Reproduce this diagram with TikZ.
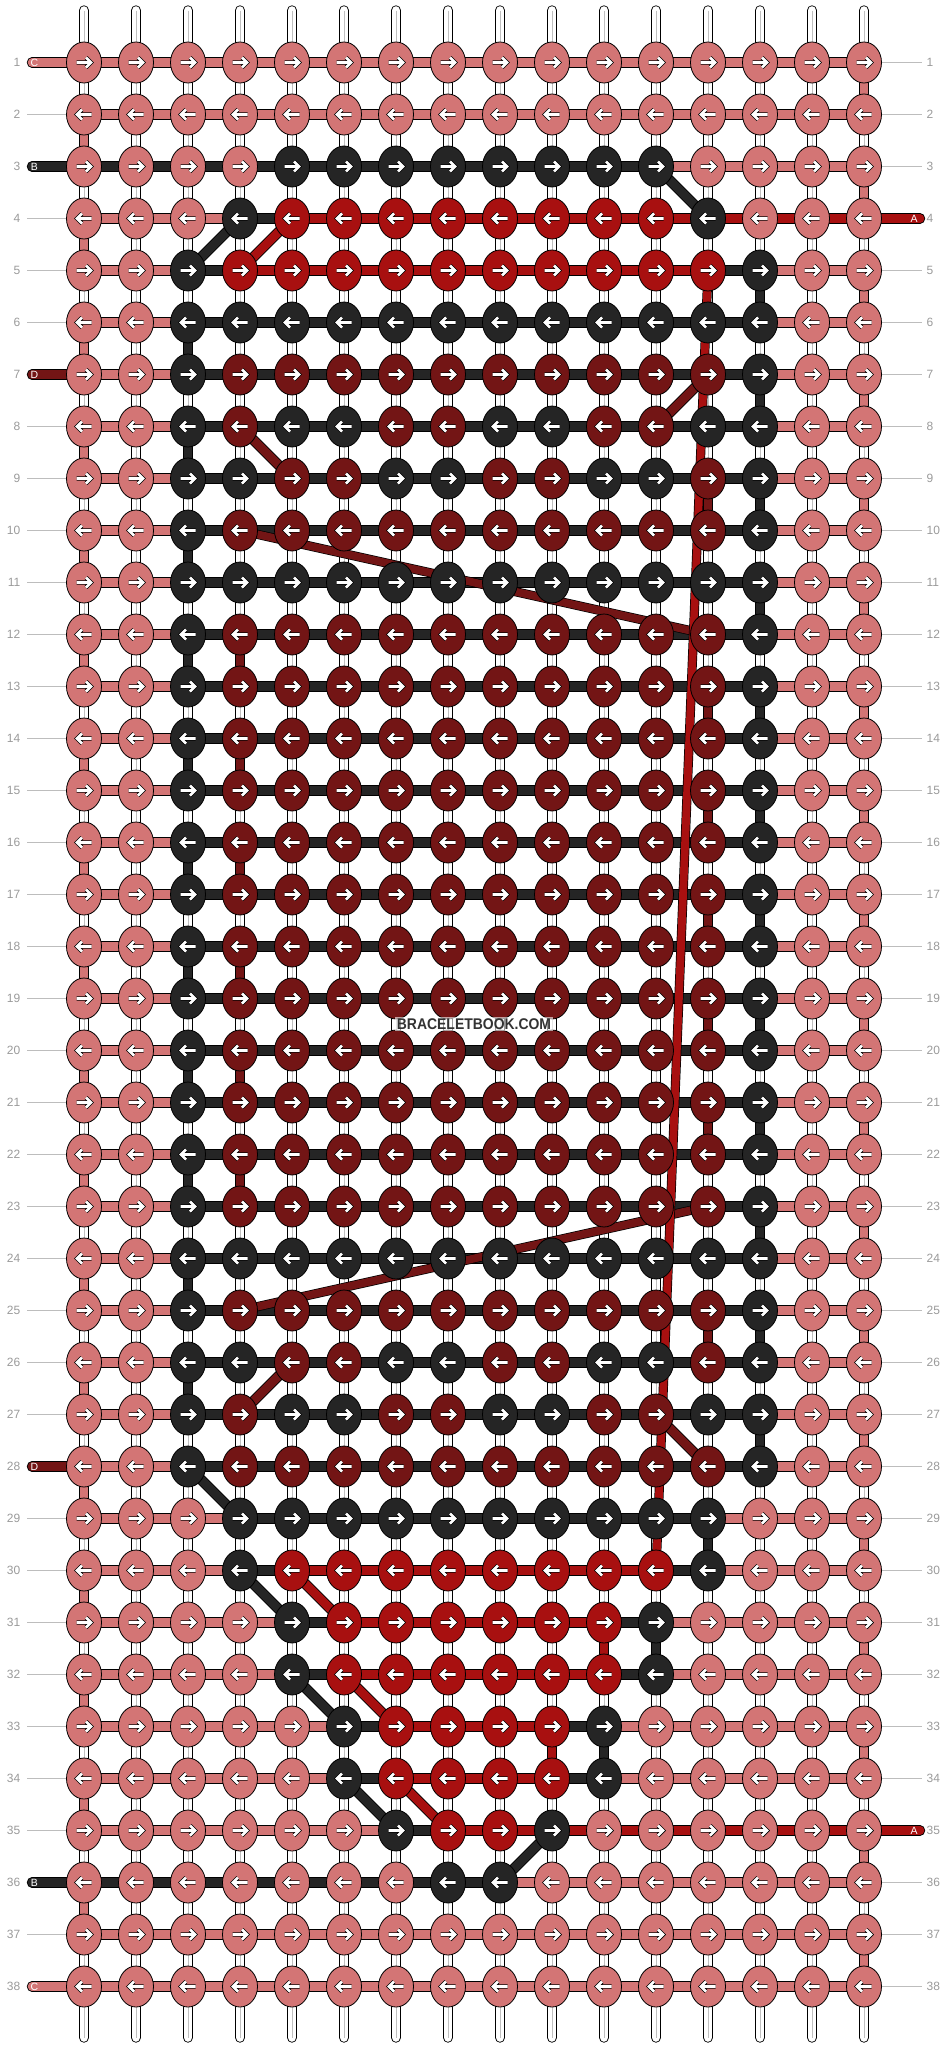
\documentclass[tikz,border=0pt]{standalone}
\usepackage{fontspec}
\setmainfont{Liberation Sans}
\usetikzlibrary{shapes.geometric}

\definecolor{cP}{HTML}{D37575}
\definecolor{cK}{HTML}{252525}
\definecolor{cM}{HTML}{731515}
\definecolor{cR}{HTML}{A81010}
\definecolor{cNum}{HTML}{9A9A9A}
\definecolor{cGuide}{HTML}{BDBDBD}

\tikzset{
  strand/.style={draw=black, line width=0.9, double=#1, double distance=8.6, line cap=round},
  longstrand/.style={draw=black, line width=0.7, double=#1, double distance=7.8, line cap=round},
  knot/.style={ellipse, draw=black, line width=0.8, minimum width=35, minimum height=41, inner sep=0},
  arw/.pic={\draw[draw=black, line width=0.8, double=white, double distance=2.6] (-7.5,0) -- (7,0) (2,-5) -- (7,0) -- (2,5);},
  rownum/.style={text=cNum, font=\fontsize{12}{13}\selectfont, inner sep=0},
  endtag/.style={text=white, font=\fontsize{10.5}{12}\selectfont, inner sep=0},
  guide/.style={draw=cGuide, line width=1},
}

\def\patA{P,P,P,P,P,P,P,P,P,P,P,P,P,P,P,P}
\def\patB{P,P,P,P,K,K,K,K,K,K,K,K,P,P,P,P}
\def\patC{P,P,P,K,R,R,R,R,R,R,R,R,K,P,P,P}
\def\patD{P,P,K,R,R,R,R,R,R,R,R,R,R,K,P,P}
\def\patE{P,P,K,K,K,K,K,K,K,K,K,K,K,K,P,P}
\def\patF{P,P,K,M,M,M,M,M,M,M,M,M,M,K,P,P}
\def\patG{P,P,K,M,K,K,M,M,K,K,M,M,K,K,P,P}
\def\patH{P,P,K,K,M,M,K,K,M,M,K,K,M,K,P,P}
\def\patI{P,P,P,K,K,K,K,K,K,K,K,K,K,P,P,P}
\def\patK{P,P,P,P,K,R,R,R,R,R,R,K,P,P,P,P}
\def\patL{P,P,P,P,P,K,R,R,R,R,K,P,P,P,P,P}
\def\patM{P,P,P,P,P,P,K,R,R,K,P,P,P,P,P,P}
\def\patN{P,P,P,P,P,P,P,K,K,P,P,P,P,P,P,P}

\begin{document}
\begin{tikzpicture}[x=1pt, y=-1pt]
\useasboundingbox (0,0) rectangle (948,2048);

% knot positions, rows 1..38, columns 1..16 (0 and 17 = loose ends)
\foreach \r in {1,...,38} {
  \pgfmathsetmacro\yy{62.5+52*(\r-1)}
  \coordinate (p-\r-0) at (32,\yy);
  \coordinate (p-\r-17) at (920,\yy);
  \coordinate (gl-\r) at (27,\yy);
  \coordinate (gr-\r) at (922,\yy);
  \foreach \c in {1,...,16} \coordinate (p-\r-\c) at ({84+52*(\c-1)},\yy);
}

% base strings
\foreach \c in {1,...,16} {
  \coordinate (top-\c) at ({84+52*(\c-1)},10.5);
  \coordinate (bot-\c) at ({84+52*(\c-1)},2037.5);
  \draw[strand=white] (top-\c) -- (bot-\c);
  \draw[black!25, line width=0.6] (top-\c) -- (bot-\c);
}

% row guides
\foreach \r in {2,4,5,6,8,9,...,27,29,30,...,35,37} \draw[guide] (gl-\r) -- (p-\r-1);
\foreach \r in {1,2,3,5,6,...,34,36,37,38} \draw[guide] (p-\r-16) -- (gr-\r);

% turns between rows
\foreach \r in {1,...,37} {
  \pgfmathtruncatemacro\s{\r+1}
  \pgfmathtruncatemacro\c{isodd(\r) ? 16 : 1}
  \draw[strand=cP] (p-\r-\c) -- (p-\s-\c);
}
\foreach \r in {5,...,27} {
  \pgfmathtruncatemacro\s{\r+1}
  \pgfmathtruncatemacro\c{isodd(\r) ? 14 : 3}
  \draw[strand=cK] (p-\r-\c) -- (p-\s-\c);
}
\foreach \r/\c in {29/13, 31/12, 33/11} {
  \pgfmathtruncatemacro\s{\r+1}
  \draw[strand=cK] (p-\r-\c) -- (p-\s-\c);
}
\foreach \r in {12,...,22} {
  \pgfmathtruncatemacro\s{\r+1}
  \pgfmathtruncatemacro\c{isodd(\r) ? 13 : 4}
  \draw[strand=cM] (p-\r-\c) -- (p-\s-\c);
}
\foreach \r/\c in {9/13, 25/13} {
  \pgfmathtruncatemacro\s{\r+1}
  \draw[strand=cM] (p-\r-\c) -- (p-\s-\c);
}
\foreach \r/\c in {31/11, 33/10} {
  \pgfmathtruncatemacro\s{\r+1}
  \draw[strand=cR] (p-\r-\c) -- (p-\s-\c);
}

% rows
\foreach \r/\a/\b in {7/0/13, 8/12/4, 9/5/13, 10/13/4, 25/4/13, 26/13/5, 27/4/12, 28/13/0}
  \draw[strand=cM] (p-\r-\a) -- (p-\r-\b);
\foreach \r in {12,...,23} \draw[strand=cM] (p-\r-4) -- (p-\r-13);
\foreach \r in {2,...,37} \draw[strand=cP] (p-\r-1) -- (p-\r-16);
\foreach \r in {1,38} \draw[strand=cP] (p-\r-0) -- (p-\r-16);
\foreach \r/\a/\b in {3/0/12, 4/13/4, 5/3/14, 29/4/13, 30/13/4, 31/5/12, 32/12/5, 33/6/11, 34/11/6, 35/7/10, 36/9/0}
  \draw[strand=cK] (p-\r-\a) -- (p-\r-\b);
\foreach \r in {6,...,28} \draw[strand=cK] (p-\r-3) -- (p-\r-14);
\foreach \r/\a/\b in {4/17/5, 5/4/13, 30/12/5, 31/6/11, 32/11/6, 33/7/10, 34/10/7, 35/8/17}
  \draw[strand=cR] (p-\r-\a) -- (p-\r-\b);

% crossings
\foreach \r/\a/\s/\b in {7/13/8/12, 8/4/9/5, 26/5/27/4, 27/12/28/13}
  \draw[strand=cM] (p-\r-\a) -- (p-\s-\b);
\draw[longstrand=cM] (p-10-4) -- (p-12-13);
\draw[longstrand=cM] (p-23-13) -- (p-25-4);
\foreach \r/\a/\s/\b in {3/12/4/13, 4/4/5/3, 28/3/29/4, 30/4/31/5, 32/5/33/6, 34/6/35/7, 35/10/36/9}
  \draw[strand=cK] (p-\r-\a) -- (p-\s-\b);
\foreach \r/\a/\s/\b in {4/5/5/4, 30/5/31/6, 32/6/33/7, 34/7/35/8}
  \draw[strand=cR] (p-\r-\a) -- (p-\s-\b);
\draw[longstrand=cR] (p-5-13) -- (p-30-12);

% knots
\foreach \r/\pat in {1/\patA, 2/\patA, 3/\patB, 4/\patC, 5/\patD, 6/\patE, 7/\patF, 8/\patG,
    9/\patH, 10/\patF, 11/\patE, 12/\patF, 13/\patF, 14/\patF, 15/\patF, 16/\patF, 17/\patF,
    18/\patF, 19/\patF, 20/\patF, 21/\patF, 22/\patF, 23/\patF, 24/\patE, 25/\patF, 26/\patH,
    27/\patG, 28/\patF, 29/\patI, 30/\patC, 31/\patK, 32/\patK, 33/\patL, 34/\patL, 35/\patM,
    36/\patN, 37/\patA, 38/\patA} {
  \edef\cur{\pat}
  \foreach \k [count=\c] in \cur {
    \node[knot, fill=c\k] (k-\r-\c) at (p-\r-\c) {};
    \ifodd\r\relax \pic at (p-\r-\c) {arw}; \else \pic[xscale=-1] at (p-\r-\c) {arw}; \fi
  }
}

% labels
\foreach \r in {1,...,38} {
  \node[rownum, anchor=east] (nl-\r) at ([xshift=-6.5]gl-\r) {\r};
  \node[rownum, anchor=west] (nr-\r) at ([xshift=4.5]gr-\r) {\r};
}
\foreach \r/\t in {1/C, 3/B, 7/D, 28/D, 36/B, 38/C}
  \node[endtag] (tag-\r) at ([xshift=2.5]p-\r-0) {\t};
\foreach \r/\t in {4/A, 35/A}
  \node[endtag] (tag-\r) at ([xshift=-6]p-\r-17) {\t};

\node[fill=white, fill opacity=0.6, text opacity=1, text=black!80, inner xsep=2, inner ysep=1.5,
  font=\bfseries\fontsize{15.5}{16}\selectfont, xscale=0.9] (mark) at (474,1024) {BRACELETBOOK.COM};
\end{tikzpicture}
\end{document}
